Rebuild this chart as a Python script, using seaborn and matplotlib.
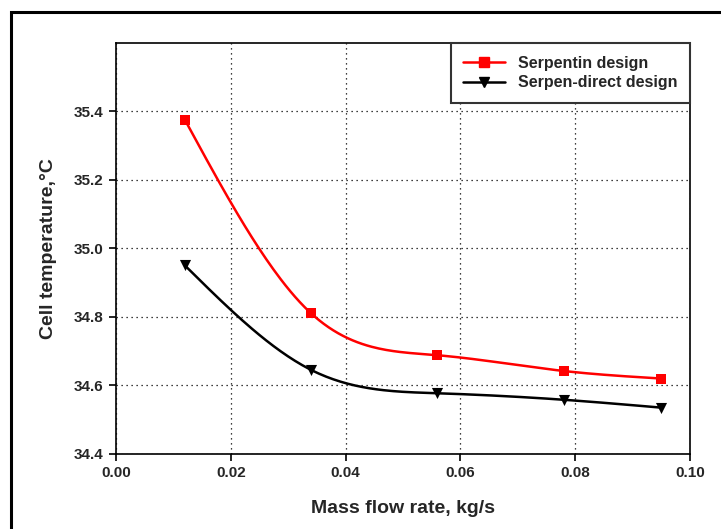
import numpy as np
import pandas as pd
import seaborn as sns
import matplotlib.pyplot as plt
from matplotlib.lines import Line2D
from matplotlib.patches import Rectangle

# Data
flow_rate = [0.012, 0.034, 0.056, 0.078, 0.095]
serpentin = [35.375, 34.81, 34.688, 34.642, 34.62]
serpen_direct = [34.95, 34.645, 34.577, 34.558, 34.535]
x_ticks = [0.00, 0.02, 0.04, 0.06, 0.08, 0.10]
y_ticks = [34.4, 34.6, 34.8, 35.0, 35.2, 35.4]


def natural_spline(x, y, n=200):
    # natural cubic spline through the points, for the smoothed line
    x = np.asarray(x, float)
    y = np.asarray(y, float)
    k = len(x)
    h = np.diff(x)
    A = np.zeros((k, k))
    b = np.zeros(k)
    A[0, 0] = A[-1, -1] = 1
    for i in range(1, k - 1):
        A[i, i - 1] = h[i - 1]
        A[i, i] = 2 * (h[i - 1] + h[i])
        A[i, i + 1] = h[i]
        b[i] = 6 * ((y[i + 1] - y[i]) / h[i] - (y[i] - y[i - 1]) / h[i - 1])
    m = np.linalg.solve(A, b)
    xs = np.linspace(x[0], x[-1], n)
    idx = np.clip(np.searchsorted(x, xs) - 1, 0, k - 2)
    t0 = x[idx + 1] - xs
    t1 = xs - x[idx]
    hi = h[idx]
    ys = (m[idx] * t0 ** 3 / (6 * hi) + m[idx + 1] * t1 ** 3 / (6 * hi)
          + (y[idx] / hi - m[idx] * hi / 6) * t0
          + (y[idx + 1] / hi - m[idx + 1] * hi / 6) * t1)
    return xs, ys


def main():
    sns.set_style('white')
    plt.rcParams['font.family'] = ['Liberation Sans', 'DejaVu Sans']
    plt.rcParams['font.weight'] = 'bold'

    fig = plt.figure(figsize=(7.21, 5.29), dpi=100)
    ax = fig.add_axes([0.161, 0.142, 0.796, 0.777])

    series = [('Serpentin design', serpentin, 'red', 's', 7.5),
              ('Serpen-direct design', serpen_direct, 'black', 'v', 8)]
    handles = []
    for name, vals, color, marker, ms in series:
        xs, ys = natural_spline(flow_rate, vals)
        smooth = pd.DataFrame({'x': xs, 'y': ys})
        sns.lineplot(data=smooth, x='x', y='y', ax=ax, color=color,
                     linewidth=1.8, legend=False)
        pts = pd.DataFrame({'x': flow_rate, 'y': vals})
        sns.scatterplot(data=pts, x='x', y='y', ax=ax, color=color,
                        marker=marker, s=ms ** 2, edgecolor=color,
                        linewidth=0, legend=False, zorder=3)
        handles.append(Line2D([], [], color=color, marker=marker, lw=1.8,
                              markersize=ms * 0.9, label=name))

    ax.set_xlim(0, 0.10)
    ax.set_ylim(34.4, 35.6)
    ax.set_xticks(x_ticks)
    ax.set_yticks(y_ticks)
    ax.set_xticklabels([f'{v:.2f}' for v in x_ticks], fontsize=11, fontweight='bold')
    ax.set_yticklabels([f'{v:.1f}' for v in y_ticks], fontsize=11, fontweight='bold')
    ax.tick_params(direction='out', length=5, width=1.2, color='black',
                   bottom=True, left=True, pad=4)
    ax.grid(True, linestyle=(0, (1, 3)), color='black', linewidth=0.9)
    for s in ax.spines.values():
        s.set_color('black')
        s.set_linewidth(1.2)

    ax.set_xlabel('Mass flow rate, kg/s', fontsize=14, fontweight='bold', labelpad=14)
    ax.set_ylabel('Cell temperature,°C', fontsize=14, fontweight='bold', labelpad=12)

    leg = ax.legend(handles=handles, loc='upper right', borderaxespad=0,
                    prop={'size': 11.5, 'weight': 'bold'}, fancybox=False,
                    framealpha=1, edgecolor='#333333', handlelength=2.6,
                    borderpad=0.8, labelspacing=0.3)
    leg.get_frame().set_linewidth(1.5)

    # outer frame, cut off at the right and bottom like the reference
    fig.add_artist(Rectangle((11 / 721, -0.1), 1.0, 1.1 - 12 / 529,
                             transform=fig.transFigure, fill=False,
                             edgecolor='black', linewidth=2.2))

    fig.savefig('out.png', dpi=100)


if __name__ == '__main__':
    main()
